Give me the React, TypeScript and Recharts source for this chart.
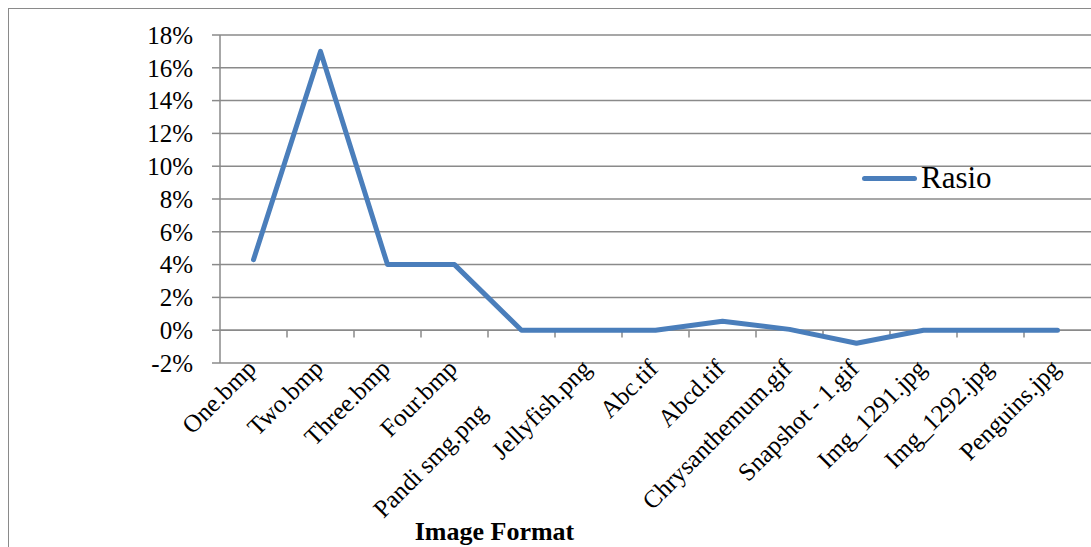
import { LineChart, Line, XAxis, YAxis, CartesianGrid, ReferenceLine, Legend } from 'recharts';

const categories = [
  'One.bmp',
  'Two.bmp',
  'Three.bmp',
  'Four.bmp',
  'Pandi smg.png',
  'Jellyfish.png',
  'Abc.tif',
  'Abcd.tif',
  'Chrysanthemum.gif',
  'Snapshot - 1.gif',
  'Img_1291.jpg',
  'Img_1292.jpg',
  'Penguins.jpg',
];
const rasio = [0.043, 0.17, 0.04, 0.04, 0, 0, 0, 0.0055, 0.0005, -0.008, 0, 0, 0];
const yTicks = [-0.02, 0, 0.02, 0.04, 0.06, 0.08, 0.1, 0.12, 0.14, 0.16, 0.18];

const data = categories.map((name, i) => ({ idx: i, name, rasio: rasio[i] }));
const xTicks = categories.map((_, i) => i);
const boundaries = categories.slice(0, -1).map((_, i) => i + 0.5);

const FONT = '"Liberation Serif", "Times New Roman", serif';
const GRID = '#8a8a8a';
const BLUE = '#4a7ebb';

// the original pushes the long "Pandi smg.png" label down-left along its slant
const LABEL_SHIFT: Record<number, [number, number]> = { 4: [-37, 44] };

// rotated category label, anchored at its end
function CategoryTick({ x, y, payload }: any) {
  const [sx, sy] = LABEL_SHIFT[payload.value] || [0, 0];
  return (
    <g transform={`translate(${x + 4 + sx},${y + 1 + sy}) rotate(-45)`}>
      <text x={0} y={0} textAnchor="end" fontFamily={FONT} fontSize={25} fill="#000">
        {categories[payload.value]}
      </text>
    </g>
  );
}

function LegendBox() {
  return (
    <div style={{ display: 'flex', alignItems: 'center', fontFamily: FONT, fontSize: 31, color: '#000' }}>
      <span style={{ display: 'inline-block', width: 55, height: 5, borderRadius: 3, background: BLUE, marginRight: 4 }} />
      Rasio
    </div>
  );
}

export default function App() {
  return (
    <div style={{ position: 'absolute', left: 0, top: 0, width: 1091, height: 547, background: '#fff', overflow: 'hidden' }}>
      <div
        style={{
          position: 'absolute',
          left: 8,
          top: 8,
          width: 1200,
          height: 600,
          borderLeft: `1px solid ${GRID}`,
          borderTop: `1px solid ${GRID}`,
        }}
      />
      <LineChart width={1091} height={547} data={data} margin={{ top: 35, right: 0, bottom: 0, left: 0 }}>
        <CartesianGrid vertical={false} stroke={GRID} strokeWidth={1.5} />
        <XAxis
          dataKey="idx"
          type="number"
          domain={[-0.5, 12.5]}
          ticks={xTicks}
          interval={0}
          height={184}
          axisLine={false}
          tickLine={false}
          tickSize={0}
          tickMargin={6}
          tick={<CategoryTick />}
          label={{
            value: 'Image Format',
            position: 'insideBottom',
            offset: 7,
            dx: -161,
            fontFamily: FONT,
            fontSize: 26,
            fontWeight: 'bold',
            fill: '#000',
          }}
        />
        <YAxis
          width={220}
          domain={[-0.02, 0.18]}
          ticks={yTicks}
          interval={0}
          tickFormatter={(v: number) => `${Math.round(v * 100)}%`}
          axisLine={{ stroke: GRID, strokeWidth: 1.5 }}
          tickLine={{ stroke: GRID, strokeWidth: 1.5 }}
          tickSize={8}
          tickMargin={19}
          tick={{ fontFamily: FONT, fontSize: 25, fill: '#000' }}
        />
        <ReferenceLine y={0} stroke={GRID} strokeWidth={1.5} />
        {boundaries.map((b) => (
          <ReferenceLine
            key={b}
            segment={[
              { x: b, y: 0 },
              { x: b, y: -0.0045 },
            ]}
            stroke={GRID}
            strokeWidth={1.5}
          />
        ))}
        <Legend
          layout="horizontal"
          verticalAlign="middle"
          align="center"
          content={<LegendBox />}
          wrapperStyle={{ left: 862, top: 160, width: 160, bottom: 'auto', right: 'auto' }}
        />
        <Line
          type="linear"
          dataKey="rasio"
          name="Rasio"
          stroke={BLUE}
          strokeWidth={5}
          strokeLinecap="round"
          strokeLinejoin="round"
          dot={false}
          activeDot={false}
          isAnimationActive={false}
        />
      </LineChart>
    </div>
  );
}
